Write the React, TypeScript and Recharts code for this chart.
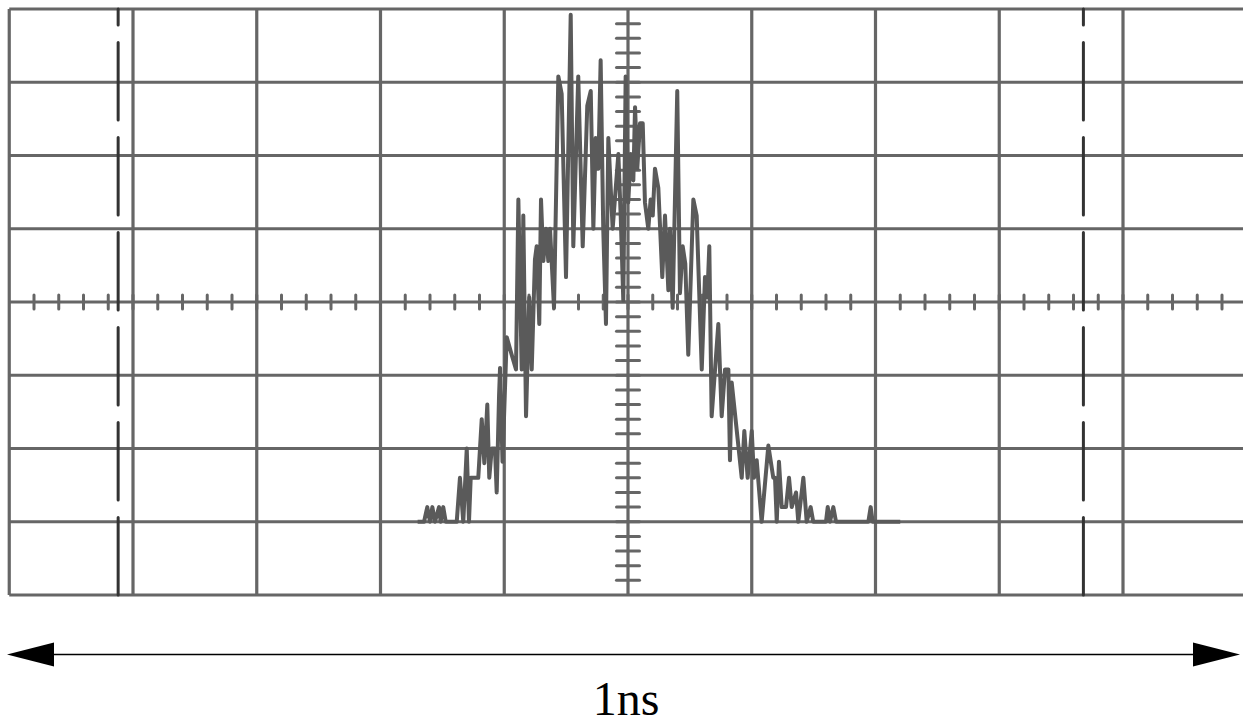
import { CartesianGrid, Line, LineChart, ReferenceLine, XAxis, YAxis } from "recharts";

// time axis in ps (10 divisions = 1 ns), counts on the vertical axis (5 counts per division)
const xGrid = [0, 100, 200, 300, 400, 500, 600, 700, 800, 900, 1000];
const yGrid = [-5, 0, 5, 10, 15, 20, 25, 30, 35];
const markers = [88, 868];

const times = [
  330, 335.2, 337.8, 340, 341.9, 344, 347.3, 348.6, 350.7, 352.7, 361.6, 364.2, 366.9, 369.7, 371.5,
  372.9, 379, 381.8, 383.9, 386.3, 387.9, 389.9, 392.5, 393.9, 395.8, 396.6, 398.6, 402, 406, 409.5,
  411.4, 414.1, 415.4, 417.6, 420.2, 422.2, 424.8, 426.2, 428.3, 429.7, 431.6, 433.7, 435.6, 437,
  440.2, 443.7, 446.4, 449.9, 453.7, 455.8, 459.8, 463.4, 467.1, 469.9, 472, 473.9, 476, 477.9, 480,
  482.2, 484.1, 487.6, 492.2, 494.1, 496.2, 498.1, 500.2, 502.2, 504.3, 505.7, 507.5, 509.7, 511.9,
  513.7, 516.4, 518.3, 520, 521.8, 524.5, 527.7, 529.9, 532.6, 533.9, 536.1, 539.8, 542, 544.2, 546.3,
  548.7, 552.8, 555.5, 559.6, 562.2, 564.1, 565.7, 567.6, 573, 575.7, 578.4, 581.1, 582.4, 583.8,
  591.9, 594, 596.7, 600, 601.8, 604, 608, 613.4, 617.4, 618.8, 620.2, 622, 624.2, 627.7, 630.1,
  632.3, 635.8, 637.6, 641.7, 644.4, 647.6, 649.7, 660, 661.4, 663.2, 665.9, 668.1, 694.2, 696.1,
  697.7, 720,
];
const counts = [
  0, 0, 1, 0, 1, 0, 1, 0, 1, 0, 0, 3, 0, 5, 0,
  3, 3, 7, 4, 8, 3, 5, 5, 2, 8.6, 10.5, 4.1, 12.6, 11.4, 10.4,
  22, 10.4, 20.9, 7.2, 15.3, 10.4, 17.9, 18.8, 13.5, 22, 17.8, 20, 17.8, 20,
  14.6, 30.4, 29.2, 16.7, 34.6, 18.8, 30.4, 18.8, 28.4, 29.4, 20, 26.2, 24.1, 31.5, 20,
  13.5, 26.2, 20, 25.1, 20.9, 15.1, 30.4, 21.8, 25.1, 23.3, 28.3, 24.1, 27.2, 27.2,
  21.8, 20, 22, 20.9, 24.1, 22.8, 16.7, 20.9, 15.8, 20, 14.6, 29.4, 15.6, 18.8, 17.6,
  11.4, 22, 20.9, 10.4, 16.7, 15.3, 18.8, 7.2, 13.5, 7.2, 10.4, 10.4, 4.2, 9.5,
  3, 6.2, 3, 6.2, 3, 4.2, 0, 5.2, 3, 3, 0, 4.1, 1, 1, 3,
  1, 2, 0, 3, 0, 1, 0, 0, 1, 0, 1, 0, 0, 1,
  0, 0,
];

const data = times.map((t, i) => ({ t, c: counts[i] }));

const hTicks = Array.from({ length: 49 }, (_, i) => (i + 1) * 20);
const vTicks = Array.from({ length: 39 }, (_, i) => i - 4);

const gridColor = "#666666";

export default function App() {
  return (
    <div
      style={{
        position: "absolute",
        left: 0,
        top: 0,
        width: 1243,
        height: 726,
        overflow: "hidden",
        background: "#ffffff",
      }}
    >
      <div style={{ position: "absolute", left: 0, top: 0 }}>
        <LineChart
          width={1260}
          height={600}
          data={data}
          margin={{ top: 9, left: 9.25, right: 13.25, bottom: 5 }}
        >
          <XAxis type="number" dataKey="t" domain={[0, 1000]} ticks={xGrid} hide />
          <YAxis type="number" domain={[-5, 35]} ticks={yGrid} hide />
          <CartesianGrid stroke={gridColor} strokeWidth={3.2} />
          {hTicks.map((t) => (
            <ReferenceLine
              key={"h" + t}
              segment={[
                { x: t, y: 14.52 },
                { x: t, y: 15.48 },
              ]}
              stroke={gridColor}
              strokeWidth={3}
              strokeLinecap="round"
            />
          ))}
          {vTicks.map((v) => (
            <ReferenceLine
              key={"v" + v}
              segment={[
                { x: 490.7, y: v },
                { x: 509.3, y: v },
              ]}
              stroke={gridColor}
              strokeWidth={3}
              strokeLinecap="round"
            />
          ))}
          {markers.map((m) => (
            <ReferenceLine
              key={"m" + m}
              segment={[
                { x: m, y: -5 },
                { x: m, y: 35 },
              ]}
              stroke="#333333"
              strokeWidth={3}
              strokeDasharray="77.5 17.5"
              strokeLinecap="round"
            />
          ))}
          <Line
            dataKey="c"
            type="linear"
            stroke="#5a5a5a"
            strokeWidth={4}
            dot={false}
            strokeLinejoin="round"
            isAnimationActive={false}
          />
        </LineChart>
      </div>
      <svg
        width={1243}
        height={126}
        style={{ position: "absolute", left: 0, top: 600 }}
      >
        <line x1={50} y1={54.5} x2={1196} y2={54.5} stroke="#000000" strokeWidth={1.5} />
        <polygon points="7,54.5 54,42.5 54,66.5" fill="#000000" />
        <polygon points="1240,54.5 1193,42.5 1193,66.5" fill="#000000" />
        <text
          x={626}
          y={115}
          textAnchor="middle"
          fontFamily="'Liberation Serif', 'Times New Roman', serif"
          fontSize={48}
          fill="#000000"
        >
          1ns
        </text>
      </svg>
    </div>
  );
}
